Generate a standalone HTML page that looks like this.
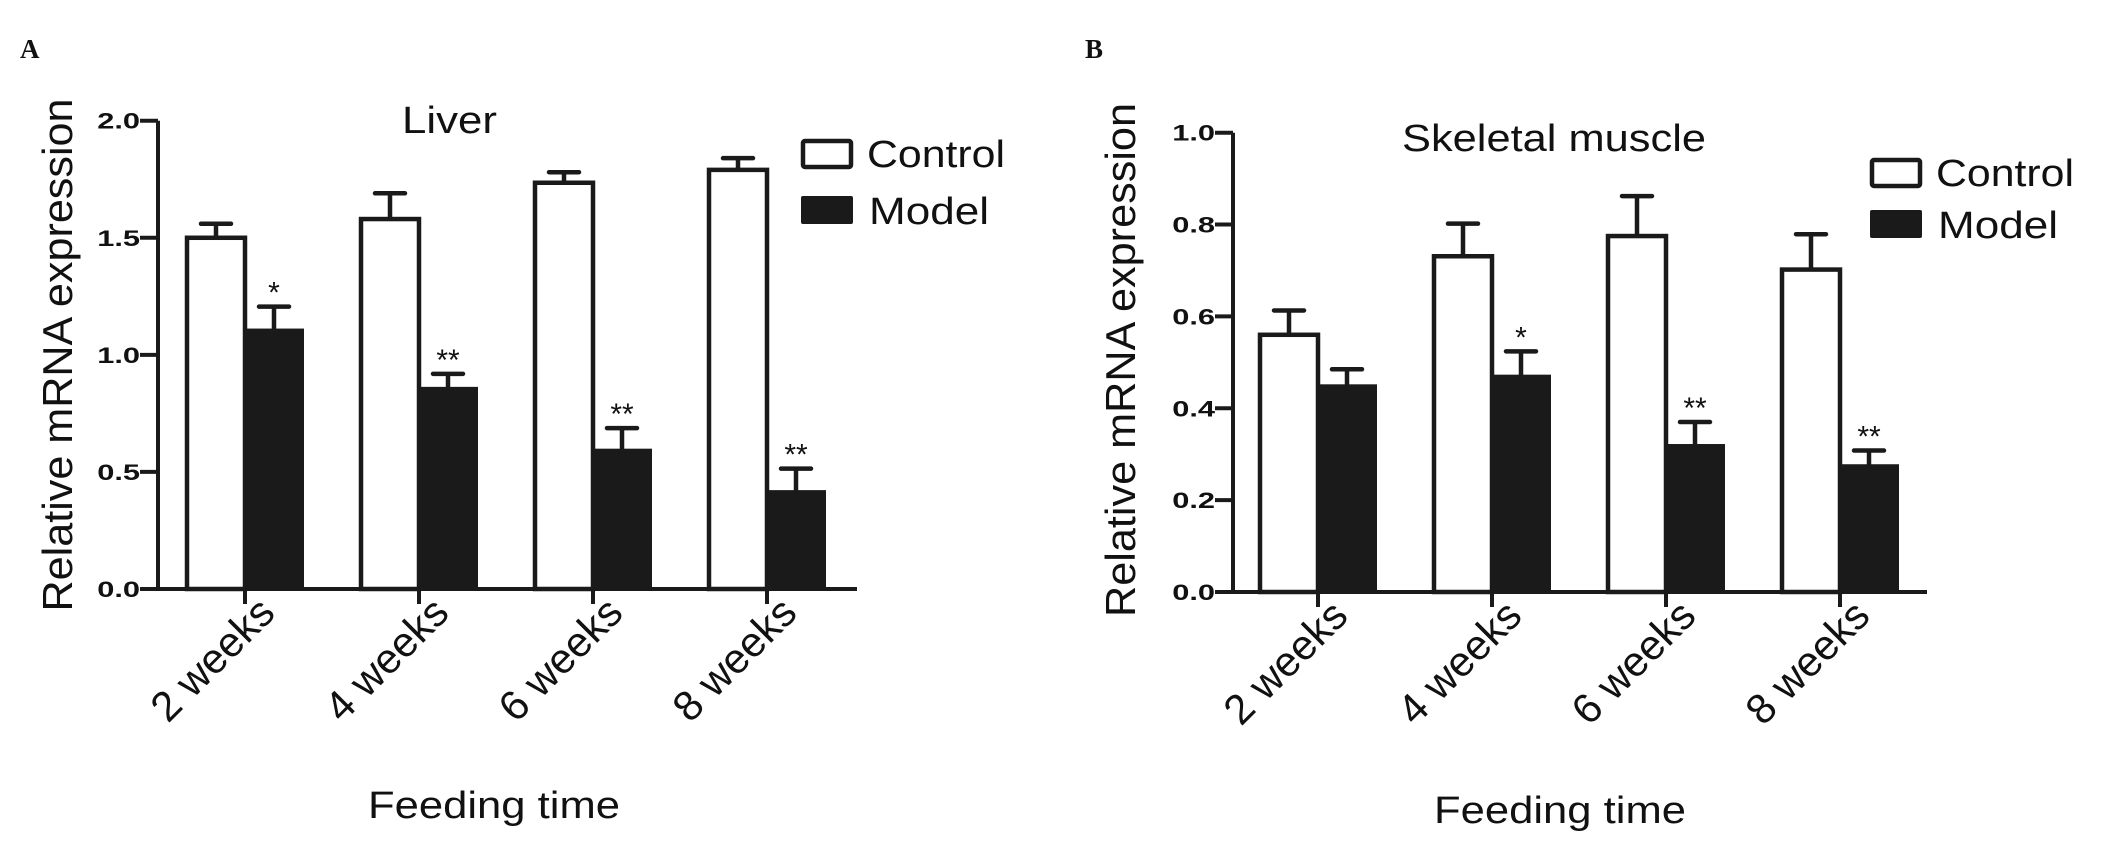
<!DOCTYPE html>
<html><head><meta charset="utf-8"><style>
html,body{margin:0;padding:0;background:#fff;}
svg{display:block;}
text{font-family:"Liberation Sans",Arial,sans-serif;fill:#111;}
</style></head><body>
<svg id="fig" width="2126" height="854" viewBox="0 0 2126 854" xmlns="http://www.w3.org/2000/svg">
<rect width="2126" height="854" fill="#fff"/>
<text x="20" y="58" style="font-family:'Liberation Serif',serif;font-weight:bold;font-size:27px">A</text>
<text x="1085" y="58" style="font-family:'Liberation Serif',serif;font-weight:bold;font-size:27px">B</text>
</svg>
<script>
const categories = ["2 weeks","4 weeks","6 weeks","8 weeks"];
const liverControl = [1.50,1.58,1.735,1.79];
const liverControlErr = [0.06,0.11,0.045,0.05];
const liverModel = [1.108,0.859,0.595,0.418];
const liverModelErr = [0.098,0.06,0.092,0.096];
const liverSig = ["*","**","**","**"];
const liverTicks = ["0.0","0.5","1.0","1.5","2.0"];
const liverTickVals = [0,0.5,1.0,1.5,2.0];
const muscleControl = [0.56,0.731,0.775,0.702];
const muscleControlErr = [0.053,0.071,0.087,0.077];
const muscleModel = [0.45,0.471,0.32,0.276];
const muscleModelErr = [0.035,0.053,0.05,0.032];
const muscleSig = ["","*","**","**"];
const muscleTicks = ["0.0","0.2","0.4","0.6","0.8","1.0"];
const muscleTickVals = [0,0.2,0.4,0.6,0.8,1.0];

const NS="http://www.w3.org/2000/svg";
const svg=document.getElementById('fig');
function mk(tag,attrs,parent){const e=document.createElementNS(NS,tag);for(const k in attrs)e.setAttribute(k,attrs[k]);(parent||svg).appendChild(e);return e;}

function panel(cfg){
  const g=mk('g',{});
  
  
  const y=v=>cfg.y0-(v/cfg.ymax)*(cfg.y0-cfg.yTop);
  const xTick=i=>cfg.firstTick+i*cfg.step;
  const bw=58;
  cfg.ctrl.forEach((v,i)=>{
    const xc=xTick(i);
    const eb=mk('path',{d:`M${xc-bw/2} ${y(v)} V${y(v+cfg.ctrlErr[i])} M${xc-bw/2-15} ${y(v+cfg.ctrlErr[i])} H${xc-bw/2+15}`,stroke:'#1a1a1a','stroke-width':4.5,'stroke-linecap':'round',fill:'none'},g);
    
    
    const r=mk('rect',{x:xc-bw,y:y(v),width:bw,height:cfg.y0-y(v),fill:'#fff',stroke:'#1a1a1a','stroke-width':4.5},g);
    
    
  });
  cfg.model.forEach((v,i)=>{
    const xc=xTick(i);
    const eb=mk('path',{d:`M${xc+bw/2} ${y(v)} V${y(v+cfg.modelErr[i])} M${xc+bw/2-15} ${y(v+cfg.modelErr[i])} H${xc+bw/2+15}`,stroke:'#1a1a1a','stroke-width':4.5,'stroke-linecap':'round',fill:'none'},g);
    
    
    const r=mk('rect',{x:xc,y:y(v),width:bw,height:cfg.y0-y(v),fill:'#1a1a1a',stroke:'#1a1a1a','stroke-width':2},g);
    
    
    if(cfg.sig[i]){
      const t=mk('text',{x:xc+bw/2,y:y(v+cfg.modelErr[i])-4,'text-anchor':'middle','font-size':30},g);
      t.textContent=cfg.sig[i];
      
      
    }
  });
  const ax=mk('path',{d:`M${cfg.ax} ${cfg.yTop} V${cfg.y0} H${cfg.xEnd}`,stroke:'#1a1a1a','stroke-width':4,fill:'none'},g);
  
  
  cfg.tickVals.forEach((v,i)=>{
    const tk=mk('line',{x1:cfg.ax-18,x2:cfg.ax,y1:y(v),y2:y(v),stroke:'#1a1a1a','stroke-width':4},g);
    
    
    const t=mk('text',{x:0,y:0,'text-anchor':'end','font-size':22,'font-weight':'bold',transform:`translate(${cfg.ax-18} ${y(v)+8}) scale(1.4 1)`},g);
    t.textContent=cfg.ticks[i];
    
    
  });
  categories.forEach((c,i)=>{
    const xc=xTick(i);
    const tk=mk('line',{x1:xc,x2:xc,y1:cfg.y0,y2:cfg.y0+15,stroke:'#1a1a1a','stroke-width':4},g);
    
    
    const t=mk('text',{x:0,y:0,'text-anchor':'end','font-size':42,transform:`translate(${xc+32} ${cfg.y0+26}) rotate(-45)`},g);
    t.textContent=c;
    
    
  });
  const tt=mk('text',{x:cfg.titleX,y:cfg.titleY,'font-size':38,textLength:cfg.titleW,lengthAdjust:'spacingAndGlyphs'},g);
  tt.textContent=cfg.title;
  
  
  const yl=mk('text',{x:0,y:0,'text-anchor':'middle','font-size':42,textLength:cfg.ylLen,lengthAdjust:'spacingAndGlyphs',transform:`translate(${cfg.ylX} ${cfg.ylY}) rotate(-90)`},g);
  yl.textContent='Relative mRNA expression';
  
  
  const xl=mk('text',{x:cfg.xlX,y:cfg.xlY,'font-size':38,textLength:252,lengthAdjust:'spacingAndGlyphs'},g);
  xl.textContent='Feeding time';
  
  
  const lg=mk('g',{},g);
  
  
  const b1=mk('rect',{x:cfg.legX+2,y:cfg.legY+2,width:48,height:26,fill:'#fff',stroke:'#1a1a1a','stroke-width':4.5,rx:2},lg);
  
  
  const t1=mk('text',{x:cfg.legX+66,y:cfg.legY+28,'font-size':38,textLength:138,lengthAdjust:'spacingAndGlyphs'},lg);
  t1.textContent='Control';
  
  
  const b2=mk('rect',{x:cfg.legX,y:cfg.legY+cfg.legGap,width:52,height:28,fill:'#1a1a1a',rx:2},lg);
  
  
  const t2=mk('text',{x:cfg.legX+68,y:cfg.legY+cfg.legGap+28,'font-size':38,textLength:120,lengthAdjust:'spacingAndGlyphs'},lg);
  t2.textContent='Model';
  
  
}

panel({name:'liver-chart',ax:158,y0:589,yTop:120.7,ymax:2.0,xEnd:857,firstTick:245,step:174,
  ctrl:liverControl,ctrlErr:liverControlErr,model:liverModel,modelErr:liverModelErr,sig:liverSig,
  ticks:liverTicks,tickVals:liverTickVals,title:'Liver',titleX:402,titleY:133,titleW:95,
  ylX:72,ylY:355,ylLen:513,xlX:368,xlY:818,legX:801,legY:139,legGap:57});
panel({name:'skeletal-muscle-chart',ax:1233,y0:592,yTop:132.7,ymax:1.0,xEnd:1927,firstTick:1318,step:174,
  ctrl:muscleControl,ctrlErr:muscleControlErr,model:muscleModel,modelErr:muscleModelErr,sig:muscleSig,
  ticks:muscleTicks,tickVals:muscleTickVals,title:'Skeletal muscle',titleX:1402,titleY:151,titleW:304,
  ylX:1135,ylY:360,ylLen:514,xlX:1434,xlY:823,legX:1870,legY:158,legGap:52});
</script>
</body></html>
